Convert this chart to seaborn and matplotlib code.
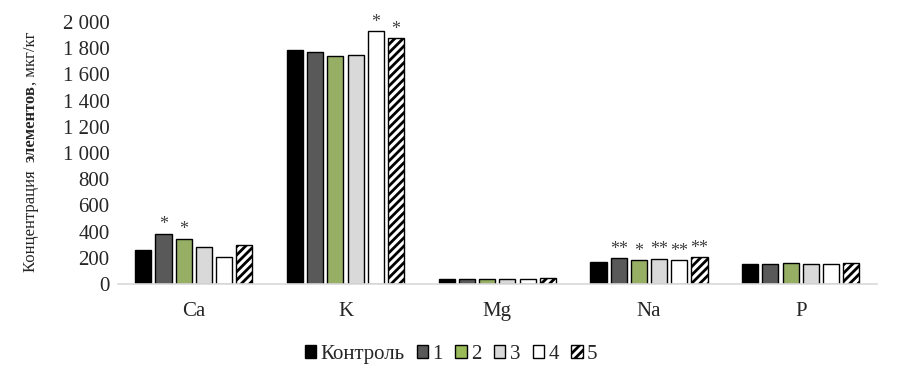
import pandas as pd
import seaborn as sns
from matplotlib import pyplot as plt
from matplotlib.patches import Patch

px = 1/100

elements = ['Ca', 'K', 'Mg', 'Na', 'P']
groups = ['Контроль', '1', '2', '3', '4', '5']
values = {
    'Контроль': [261, 1784, 38, 169, 154],
    '1':        [382, 1769, 38, 197, 154],
    '2':        [344, 1736, 38, 182, 161],
    '3':        [282, 1751, 38, 192, 154],
    '4':        [205, 1928, 38, 182, 154],
    '5':        [298, 1874, 45, 205, 161],
}
stars = {
    ('Ca', '1'): '*', ('Ca', '2'): '*',
    ('K', '4'): '*', ('K', '5'): '*',
    ('Na', '1'): '**', ('Na', '2'): '*', ('Na', '3'): '**',
    ('Na', '4'): '**', ('Na', '5'): '**',
}
colors = ['#000000', '#595959', '#9BBB59', '#D9D9D9', '#FFFFFF', '#FFFFFF']

rows = []
for g in groups:
    for el, v in zip(elements, values[g]):
        rows.append({'element': el, 'group': g, 'value': v})
df = pd.DataFrame(rows)

sns.set_style('white')
plt.rcParams['font.family'] = ['Liberation Serif', 'DejaVu Serif']
plt.rcParams['hatch.linewidth'] = 2.0

fig = plt.figure(figsize=(900*px, 381*px), dpi=100)
ax = fig.add_axes([0.131, 0.2546, 0.843, 0.688])

sns.barplot(data=df, x='element', y='value', hue='group', palette=colors,
            width=0.8, gap=0.2, edgecolor='black', linewidth=1.0, ax=ax,
            legend=False)

# hatch for group 5
for bar in ax.containers[5]:
    bar.set_hatch('////')

# significance marks
for gi, g in enumerate(groups):
    for bi, bar in enumerate(ax.containers[gi]):
        mark = stars.get((elements[bi], g))
        if mark:
            ax.text(bar.get_x() + bar.get_width()/2, bar.get_height() + 4, mark,
                    ha='center', va='bottom', fontsize=13, color='#404040')

ax.set_ylim(0, 2000)
ax.set_yticks(range(0, 2001, 200))
ax.set_yticklabels([f'{v:,}'.replace(',', ' ') for v in range(0, 2001, 200)], fontsize=15)
ax.tick_params(axis='x', labelsize=15, pad=13, length=0)
ax.tick_params(axis='y', length=0, pad=6)
ax.set_xlabel('')
ax.set_ylabel('')
for s in ['top', 'right', 'left']:
    ax.spines[s].set_visible(False)
ax.spines['bottom'].set_color('#D9D9D9')
ax.spines['bottom'].set_linewidth(1.2)

# y label with bold middle word
fig.canvas.draw()
r = fig.canvas.get_renderer()
xl = 31/900
parts = [('Концентрация  ', 'normal'), ('элементов', 'bold'), (', мкг/кг', 'normal')]
texts = [fig.text(xl, 0.5, txt, rotation=90, fontsize=12, fontweight=w,
                  ha='center', va='bottom') for txt, w in parts]
heights = [t.get_window_extent(r).height / fig.bbox.height for t in texts]
start = 1 - 152/381 - sum(heights)/2
for t, h in zip(texts, heights):
    t.set_y(start)
    start += h

handles = [Patch(facecolor=c, edgecolor='black', linewidth=1.0) for c in colors]
handles[5].set_hatch('////')
ax.legend(handles, groups, loc='upper center', bbox_to_anchor=(0.439, -0.16),
          ncol=6, frameon=False, fontsize=15, handlelength=0.55, handleheight=0.55,
          handletextpad=0.2, columnspacing=0.6)

plt.savefig('out.png', dpi=100)
